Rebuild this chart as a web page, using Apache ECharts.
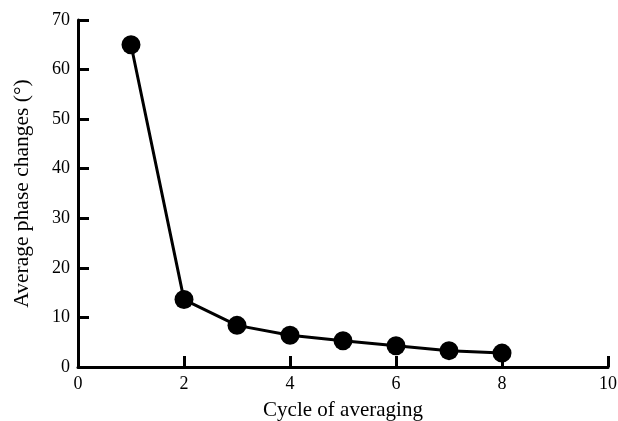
<!DOCTYPE html>
<html>
<head>
<meta charset="utf-8">
<script src="https://cdn.jsdelivr.net/npm/echarts@6/dist/echarts.min.js"></script>
<style>
  html, body { margin: 0; padding: 0; background: #fff; }
  #chart { width: 618px; height: 421px; }
</style>
</head>
<body>
<div id="chart"></div>
<script>
const cycles = [1, 2, 3, 4, 5, 6, 7, 8];
const phaseChanges = [65, 13.6, 8.4, 6.4, 5.3, 4.3, 3.3, 2.8];

const font = 'Liberation Serif';
const axisStyle = {
  axisLine: { lineStyle: { color: '#000', width: 3 } },
  axisTick: { inside: true, length: 11, lineStyle: { color: '#000', width: 3 } },
  splitLine: { show: false },
};

const chart = echarts.init(document.getElementById('chart'));
chart.setOption({
  backgroundColor: '#fff',
  animation: false,
  grid: { left: 78, right: 10, top: 20, bottom: 54, outerBoundsMode: 'none', containLabel: false },
  xAxis: {
    type: 'value', min: 0, max: 10, interval: 2,
    name: 'Cycle of averaging', nameLocation: 'middle', nameGap: 33,
    nameTextStyle: { fontFamily: font, fontSize: 21, color: '#000' },
    axisLabel: { fontFamily: font, fontSize: 18, color: '#000', margin: 8 },
    ...axisStyle,
  },
  yAxis: {
    type: 'value', min: 0, max: 70, interval: 10,
    name: 'Average phase changes (°)', nameLocation: 'middle', nameGap: 45,
    nameTextStyle: { fontFamily: font, fontSize: 21.5, color: '#000' },
    axisLabel: { fontFamily: font, fontSize: 18, color: '#000', margin: 8 },
    ...axisStyle,
  },
  series: [{
    type: 'line',
    data: cycles.map((c, i) => [c, phaseChanges[i]]),
    symbol: 'circle', symbolSize: 19,
    lineStyle: { color: '#000', width: 3 },
    itemStyle: { color: '#000' },
  }],
});
</script>
</body>
</html>
